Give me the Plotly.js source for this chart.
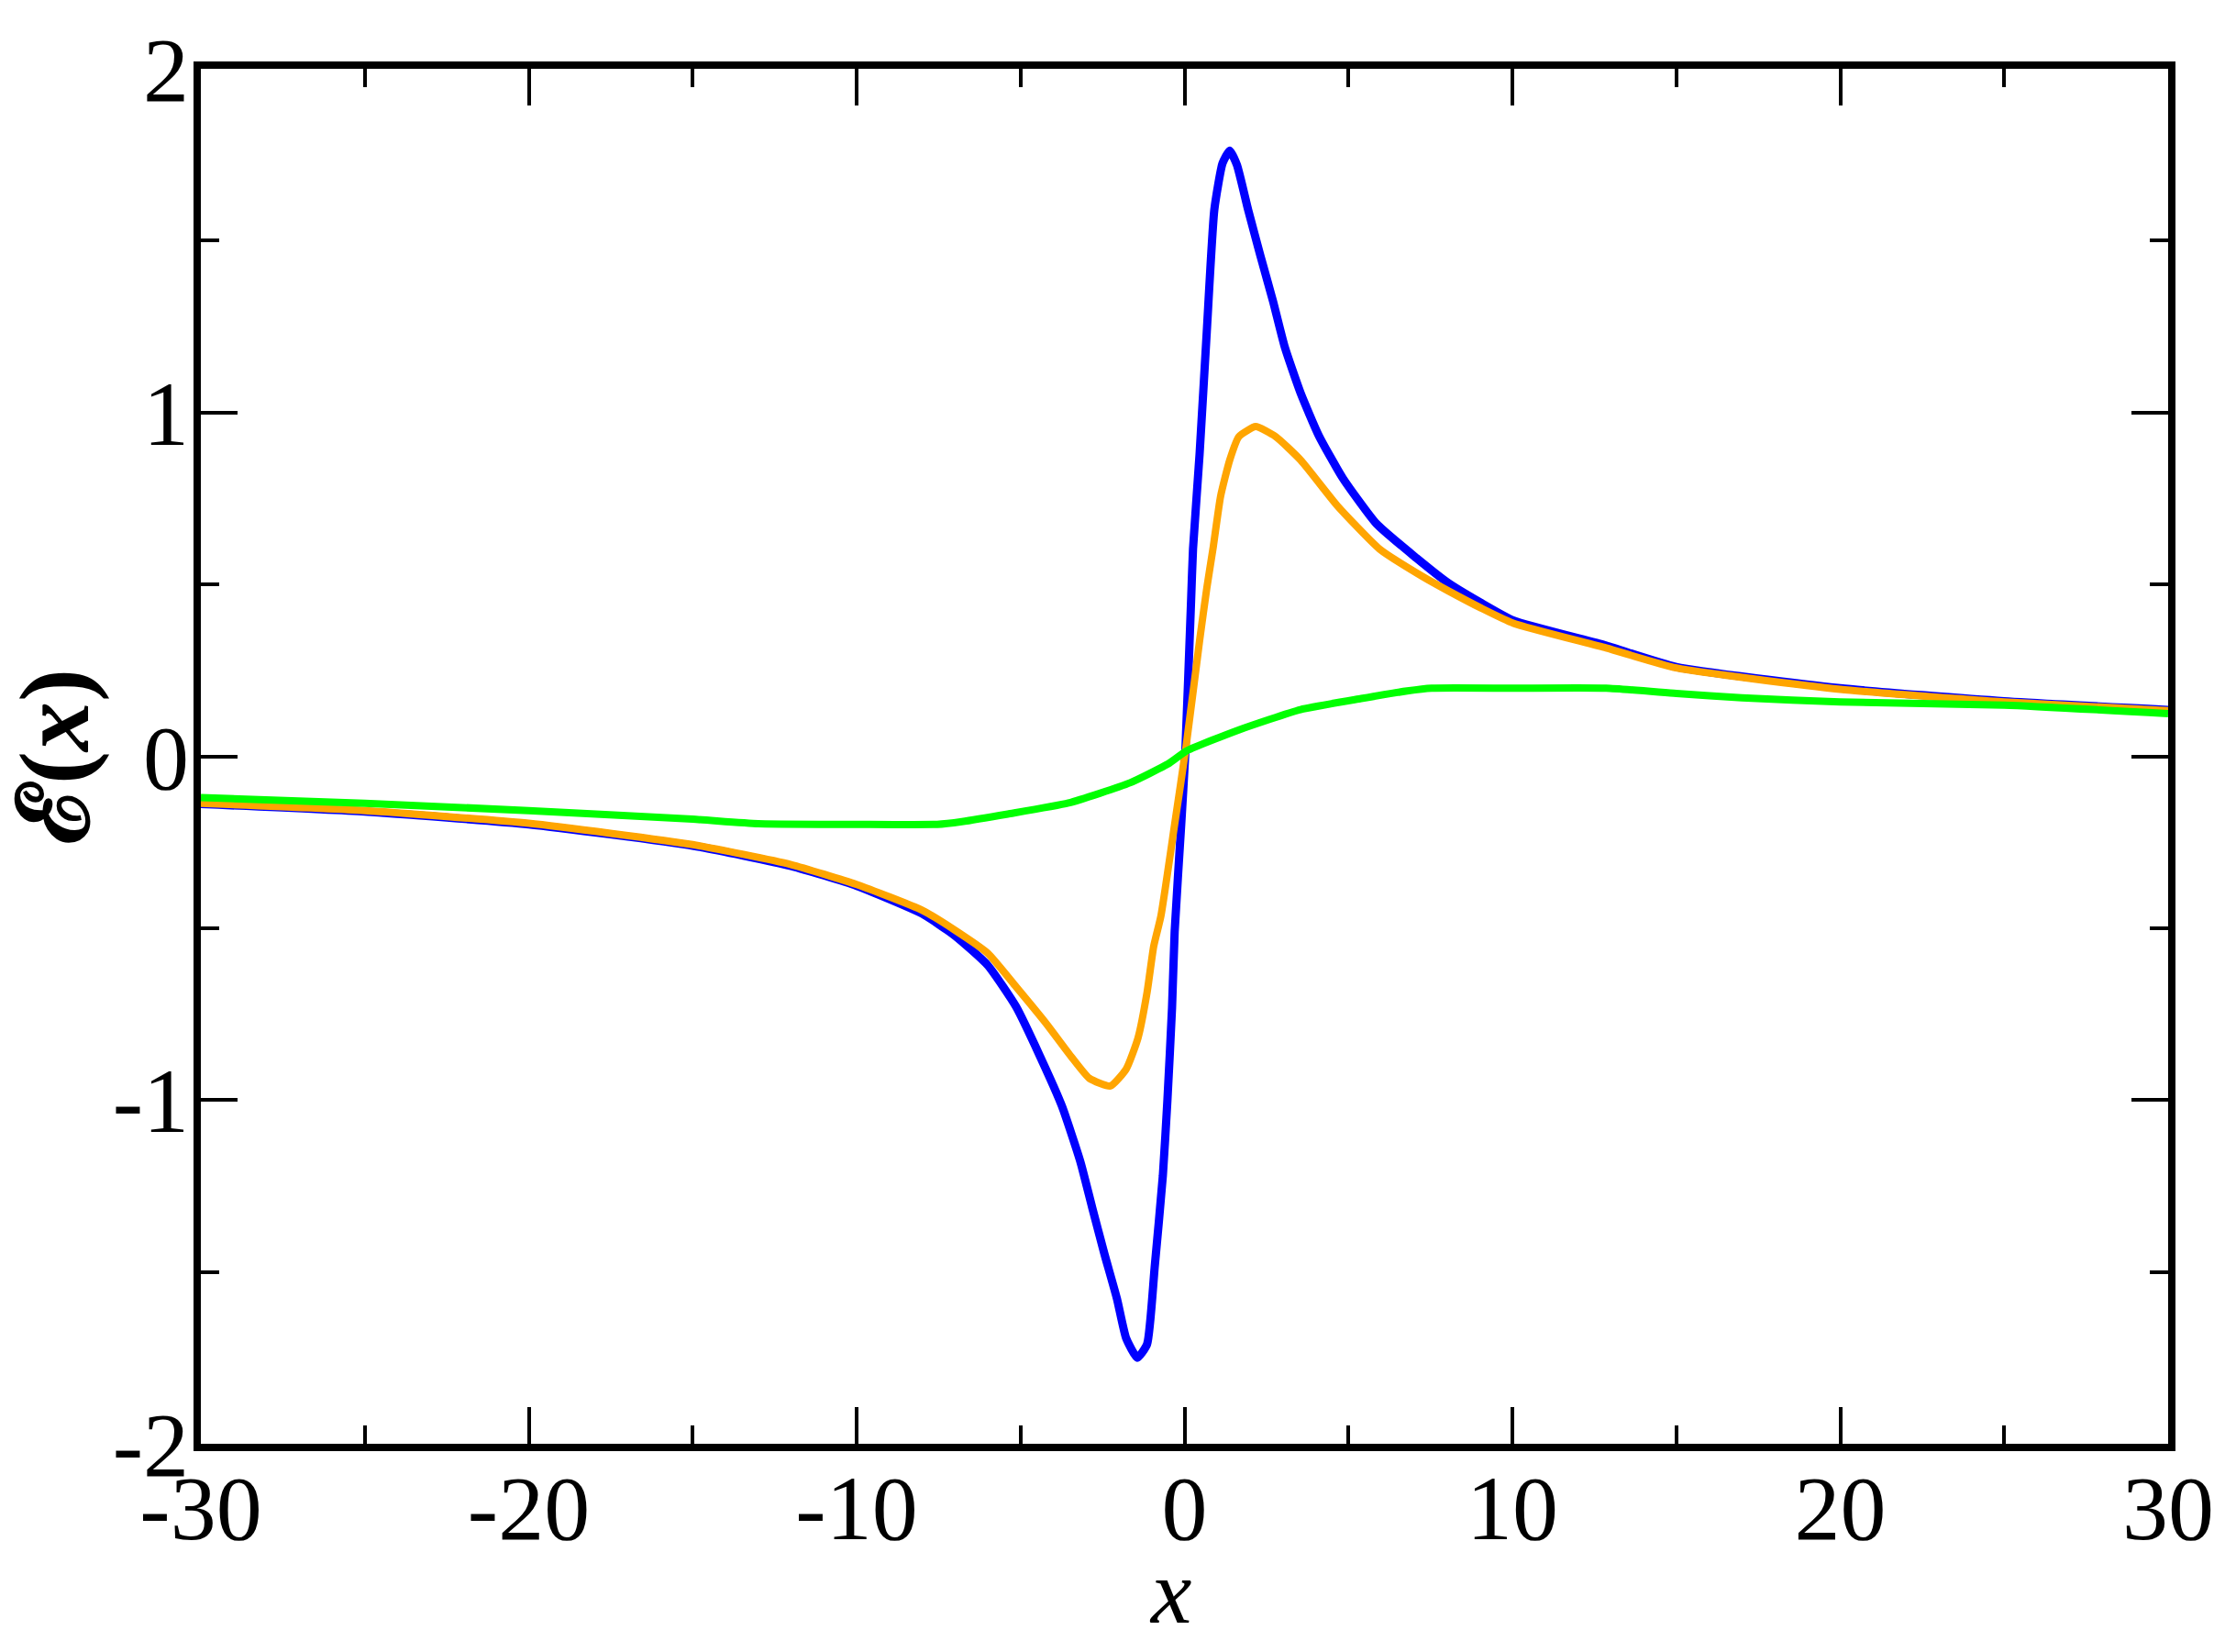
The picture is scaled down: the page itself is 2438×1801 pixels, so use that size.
<!DOCTYPE html>
<html>
<head>
<meta charset="utf-8">
<script src="https://cdn.plot.ly/plotly-3.0.1.min.js"></script>
<style>
  html, body { margin: 0; padding: 0; background: #fff; }
  #plot { width: 2438px; height: 1801px; }
</style>
</head>
<body>
<div id="plot"></div>
<script>
// --- values ---
const xBlue = [-30, -25, -20, -15, -12, -10, -8, -7, -6, -5.14, -4.41, -3.74, -3.18, -2.82, -2.45, -2.06, -1.78, -1.44,
  -1.14, -0.91, -0.66, -0.52, -0.38, -0.3, -0.1, 0.02, 0.2, 0.26, 0.46, 0.68, 0.91, 1.16, 1.38, 1.6, 1.94, 2.31, 2.7,
  3.06, 3.54, 4.1, 4.83, 5.86, 7.07, 8.03, 9.03, 10.03, 12.86, 15, 20, 25, 30];
const yBlue = [-0.139, -0.161, -0.198, -0.26, -0.319, -0.377, -0.458, -0.522, -0.608, -0.728, -0.872, -1.017, -1.178,
  -1.311, -1.445, -1.578, -1.693, -1.75, -1.71, -1.487, -1.22, -0.999, -0.732, -0.51, -0.198, 0, 0.45, 0.603, 0.879,
  1.236, 1.59, 1.725, 1.762, 1.72, 1.59, 1.458, 1.324, 1.19, 1.057, 0.932, 0.809, 0.676, 0.577, 0.505, 0.447, 0.395,
  0.322, 0.26, 0.198, 0.16, 0.135];

const xOrange = [-30, -25, -20, -15, -12, -10, -8, -7, -6, -5.14, -4.22, -3.46, -2.9, -2.26, -1.78, -1.42, -1.14, -0.94,
  -0.72, -0.3, 0.05, 0.46, 0.68, 0.88, 1.1, 1.38, 1.66, 2.17, 2.78, 3.54, 4.66, 5.95, 7.26, 8.03, 9.03, 10.03, 12.86,
  15, 20, 25, 30];
const yOrange = [-0.137, -0.158, -0.195, -0.257, -0.315, -0.373, -0.448, -0.506, -0.573, -0.67, -0.777, -0.873, -0.937,
  -0.959, -0.91, -0.82, -0.686, -0.553, -0.465, -0.198, 0.03, 0.336, 0.489, 0.611, 0.756, 0.862, 0.93, 0.959, 0.93,
  0.862, 0.729, 0.603, 0.523, 0.482, 0.432, 0.387, 0.315, 0.257, 0.195, 0.158, 0.133];

const xGreen = [-30, -25, -20, -15, -13, -10, -7.54, -6.79, -5.39, -3.54, -1.66, -0.5, 0.07, 1.66, 3.54, 5.39, 6.79,
  7.54, 10, 12.86, 15, 17, 20, 25, 30];
const yGreen = [-0.12, -0.137, -0.158, -0.183, -0.196, -0.198, -0.198, -0.19, -0.168, -0.136, -0.077, -0.022, 0.016,
  0.077, 0.136, 0.168, 0.19, 0.198, 0.198, 0.198, 0.183, 0.17, 0.158, 0.149, 0.124];

const xTickVals = [-30, -20, -10, 0, 10, 20, 30];
const xTickText = ['-30', '-20', '-10', '0', '10', '20', '30'];
const yTickVals = [-2, -1, 0, 1, 2];
const yTickText = ['-2', '-1', '0', '1', '2'];

// --- traces ---
const serif = 'Liberation Serif, Times New Roman, DejaVu Serif, serif';

const traces = [
  { x: xBlue, y: yBlue, mode: 'lines', type: 'scatter',
    line: { color: '#0000ff', width: 9, shape: 'spline', smoothing: 0.5 }, hoverinfo: 'none' },
  { x: xOrange, y: yOrange, mode: 'lines', type: 'scatter',
    line: { color: '#ffa500', width: 8, shape: 'spline', smoothing: 0.5 }, hoverinfo: 'none' },
  { x: xGreen, y: yGreen, mode: 'lines', type: 'scatter',
    line: { color: '#00ff00', width: 8, shape: 'spline', smoothing: 0.5 }, hoverinfo: 'none' }
];

const axisCommon = {
  showline: true,
  linewidth: 8,
  linecolor: '#000',
  mirror: 'ticks',
  ticks: 'inside',
  ticklen: 40,
  tickwidth: 4,
  tickcolor: '#000',
  tickmode: 'array',
  showgrid: false,
  zeroline: false,
  tickfont: { family: serif, size: 100, color: '#000' }
};

const layout = {
  width: 2438,
  height: 1801,
  margin: { l: 219, r: 74, t: 75, b: 227 },
  paper_bgcolor: '#fff',
  plot_bgcolor: '#fff',
  showlegend: false,
  xaxis: Object.assign({}, axisCommon, {
    range: [-30, 30],
    tickvals: xTickVals,
    ticktext: xTickText,
    ticklabelstandoff: -24,
    minor: { tickmode: 'linear', tick0: 0, dtick: 5, ticks: 'inside', ticklen: 20, tickwidth: 4, tickcolor: '#000' }
  }),
  yaxis: Object.assign({}, axisCommon, {
    range: [-2, 2],
    tickvals: yTickVals,
    ticktext: yTickText,
    ticklabelstandoff: -15,
    minor: { tickmode: 'linear', tick0: 0, dtick: 0.5, ticks: 'inside', ticklen: 20, tickwidth: 4, tickcolor: '#000' },
    title: { text: '<b>ℰ(<i>x</i>)</b>', font: { family: serif, size: 108, color: '#000' }, standoff: 14 }
  }),
  annotations: [{
    text: '<i>x</i>',
    xref: 'paper', yref: 'paper',
    x: 0.4928, y: -0.146,
    xanchor: 'center', yanchor: 'bottom',
    showarrow: false,
    font: { family: serif, size: 100, color: '#000' }
  }]
};

Plotly.newPlot('plot', traces, layout, { displayModeBar: false, staticPlot: true });
</script>
</body>
</html>
